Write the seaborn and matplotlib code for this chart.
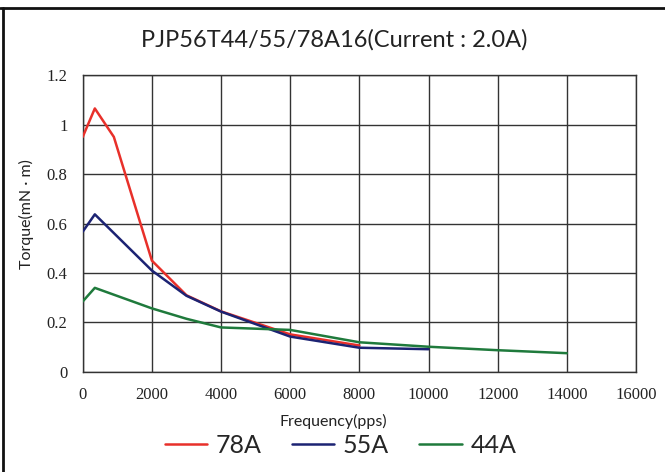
import pandas as pd
import matplotlib
matplotlib.use('Agg')
import matplotlib.pyplot as plt
import seaborn as sns
from matplotlib.lines import Line2D

title = 'PJP56T44/55/78A16(Current : 2.0A)'

freq_78 = [0, 350, 900, 2000, 3000, 4000, 6000, 8000]
torque_78 = [0.95, 1.065, 0.95, 0.45, 0.31, 0.245, 0.152, 0.107]

freq_55 = [0, 350, 2000, 3000, 4000, 6000, 8000, 10000]
torque_55 = [0.567, 0.637, 0.41, 0.308, 0.244, 0.143, 0.098, 0.092]

freq_44 = [0, 350, 2000, 3000, 4000, 6000, 8000, 10000, 12000, 14000]
torque_44 = [0.285, 0.34, 0.257, 0.215, 0.18, 0.17, 0.12, 0.102, 0.088, 0.076]

x_ticks = [0, 2000, 4000, 6000, 8000, 10000, 12000, 14000, 16000]
y_ticks = [0, 0.2, 0.4, 0.6, 0.8, 1.0, 1.2]
y_tick_labels = ['0', '0.2', '0.4', '0.6', '0.8', '1', '1.2']

series = {'78A': (freq_78, torque_78),
          '55A': (freq_55, torque_55),
          '44A': (freq_44, torque_44)}
colors = {'78A': '#e8302a', '55A': '#1c2373', '44A': '#1f7a3c'}

frames = []
for name, (f, t) in series.items():
    frames.append(pd.DataFrame({'freq': f, 'torque': t, 'model': name}))
df = pd.concat(frames, ignore_index=True)

sns.set_style('white')
plt.rcParams['font.family'] = ['Lato', 'DejaVu Sans']

fig = plt.figure(figsize=(6.65, 4.72), dpi=100)
ax = fig.add_axes([0.1244, 0.2119, 0.832, 0.6291])

sns.lineplot(data=df, x='freq', y='torque', hue='model', palette=colors,
             sort=False, linewidth=1.8, ax=ax, legend=False, zorder=3)

ax.set_xlim(0, 16000)
ax.set_ylim(0, 1.2)
ax.set_xticks(x_ticks)
ax.set_xticklabels([str(v) for v in x_ticks], family='Liberation Serif',
                   fontsize=12, color='#222222')
ax.set_yticks(y_ticks)
ax.set_yticklabels(y_tick_labels, family='Liberation Serif',
                   fontsize=12, color='#222222')
ax.tick_params(axis='x', length=0, pad=11)
ax.tick_params(axis='y', length=0, pad=11)
ax.grid(True, color='#333333', linewidth=1.0)
ax.set_axisbelow(True)
for sp in ax.spines.values():
    sp.set_color('#333333')
    sp.set_linewidth(1.0)

ax.set_xlabel('Frequency(pps)', fontsize=11.5, color='#222222')
ax.set_ylabel('Torque(mN · m)', fontsize=11.5, color='#222222')
ax.xaxis.set_label_coords(0.453, -0.142)
ax.yaxis.set_label_coords(-0.088, 0.532)

fig.text(0.503, 0.915, title, ha='center', va='center', fontsize=17,
         color='#222222')

handles = [Line2D([0], [0], color=colors[k], linewidth=1.8) for k in series]
fig.legend(handles, list(series.keys()), loc='center', ncol=3,
           bbox_to_anchor=(0.512, 0.057), frameon=False, fontsize=18,
           handlelength=1.7, columnspacing=1.2, handletextpad=0.35)

# outer frame (top and left edges visible in the reference)
fig.add_artist(Line2D([0, 1], [1 - 7.5 / 472, 1 - 7.5 / 472],
                      transform=fig.transFigure, color='#111111', linewidth=2))
fig.add_artist(Line2D([2.5 / 665, 2.5 / 665], [0, 1 - 7.5 / 472],
                      transform=fig.transFigure, color='#111111', linewidth=2))

fig.savefig('out.png', dpi=100, facecolor='white')
